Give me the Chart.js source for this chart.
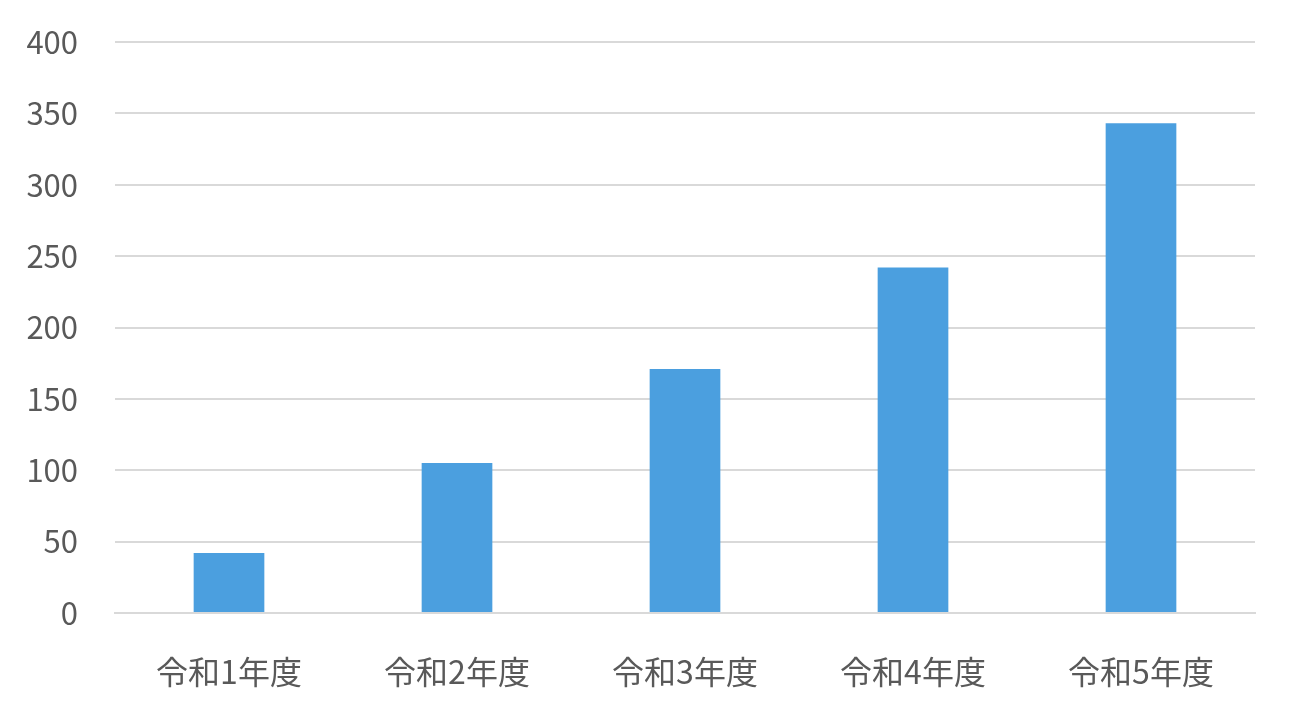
<!DOCTYPE html>
<html lang="ja">
<head>
<meta charset="utf-8">
<script src="https://cdn.jsdelivr.net/npm/chart.js@4"></script>
<style>
  html, body { margin: 0; padding: 0; background: #fff; }
  #wrap { width: 1300px; height: 728px; }
</style>
</head>
<body>
<div id="wrap"><canvas id="c"></canvas></div>
<script>
const categories = ["令和1年度", "令和2年度", "令和3年度", "令和4年度", "令和5年度"];
const values = [42, 105, 171, 242, 343];
const yTicks = [0, 50, 100, 150, 200, 250, 300, 350, 400];

const font = "'Noto Sans CJK JP', 'Noto Sans', sans-serif";

new Chart(document.getElementById("c"), {
  type: "bar",
  data: {
    labels: categories,
    datasets: [{
      data: values,
      backgroundColor: "#4b9fdf",
      barPercentage: 0.62,
      categoryPercentage: 0.5
    }]
  },
  options: {
    responsive: true,
    maintainAspectRatio: false,
    animation: false,
    layout: { padding: { top: 42, right: 45, left: 0, bottom: 0 } },
    plugins: { legend: { display: false }, tooltip: { enabled: false } },
    scales: {
      x: {
        grid: { display: false, drawTicks: false },
        border: { color: "#d9d9d9", width: 2 },
        ticks: { color: "#595959", font: { family: font, size: 32 }, padding: 40 },
        afterFit: s => { s.height = 115; }
      },
      y: {
        min: 0,
        max: 400,
        afterBuildTicks: s => { s.ticks = yTicks.map(v => ({ value: v })); },
        grid: { color: "#d9d9d9", lineWidth: 2, drawTicks: false },
        border: { display: false },
        ticks: { color: "#595959", font: { family: font, size: 31 }, padding: 37 },
        afterFit: s => { s.width = 115; s.paddingTop = 0; s.paddingBottom = 0; }
      }
    }
  }
});
</script>
</body>
</html>
